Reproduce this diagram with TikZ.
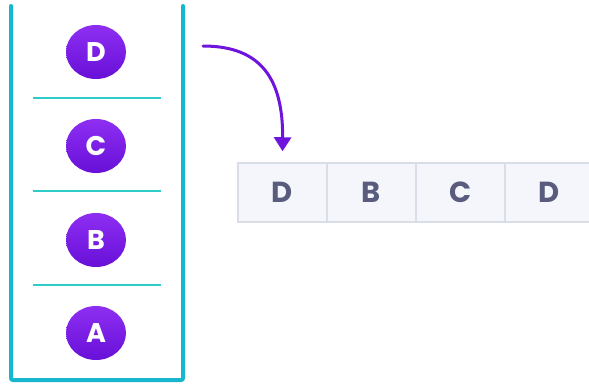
\documentclass[tikz,border=0pt]{standalone}
\usepackage{fontspec}
\setmainfont{Poppins}
\usetikzlibrary{shapes.geometric,arrows.meta}
\definecolor{wallcyan}{HTML}{17B6CF}
\definecolor{septeal}{HTML}{2ECCC6}
\definecolor{coinlight}{HTML}{8E2EF2}
\definecolor{coindark}{HTML}{6810D8}
\definecolor{cellfill}{HTML}{F4F6FB}
\definecolor{cellline}{HTML}{D8DDE7}
\definecolor{celltext}{HTML}{5A5C7E}
\begin{document}
\begin{tikzpicture}[x=1pt,y=-1pt,
  coin/.style={ellipse,minimum width=60pt,minimum height=54pt,inner sep=0pt,
    top color=coinlight,bottom color=coindark,draw=none,text=white,
    font=\fontsize{27}{27}\selectfont\bfseries},
  cell/.style={rectangle,minimum width=89pt,minimum height=59pt,inner sep=0pt,
    fill=cellfill,draw=cellline,line width=1.5pt,text=celltext,
    font=\fontsize{29}{29}\selectfont\bfseries}]
\useasboundingbox (0,0) rectangle (589,383);
% stack
\draw[wallcyan,line width=4pt,line cap=round,rounded corners=2pt] (11,6) -- (11,380) -- (183,380) -- (183,6);
\draw[septeal,line width=2.5pt] (33,98) -- (161,98);
\draw[septeal,line width=2.5pt] (33,191) -- (161,191);
\draw[septeal,line width=2.5pt] (33,285) -- (161,285);
\node[coin] (d) at (96,52) {D};
\node[coin] (c) at (96,146) {C};
\node[coin] (b) at (96,240) {B};
\node[coin] (a) at (96,333) {A};
% array
\node[cell] (c1) at (282.5,192.5) {D};
\node[cell] (c2) at (371.5,192.5) {B};
\node[cell] (c3) at (460.5,192.5) {C};
\node[cell] (c4) at (549.5,192.5) {D};
% pop
\coordinate (pop) at (203,46);
\draw[coindark!85!coinlight,line width=3pt,line cap=round,-{Stealth[length=14pt,width=17pt,inset=0pt]},shorten >=11pt]
  (pop) .. controls (262,46) and (283,80) .. (c1.north);
\end{tikzpicture}
\end{document}
